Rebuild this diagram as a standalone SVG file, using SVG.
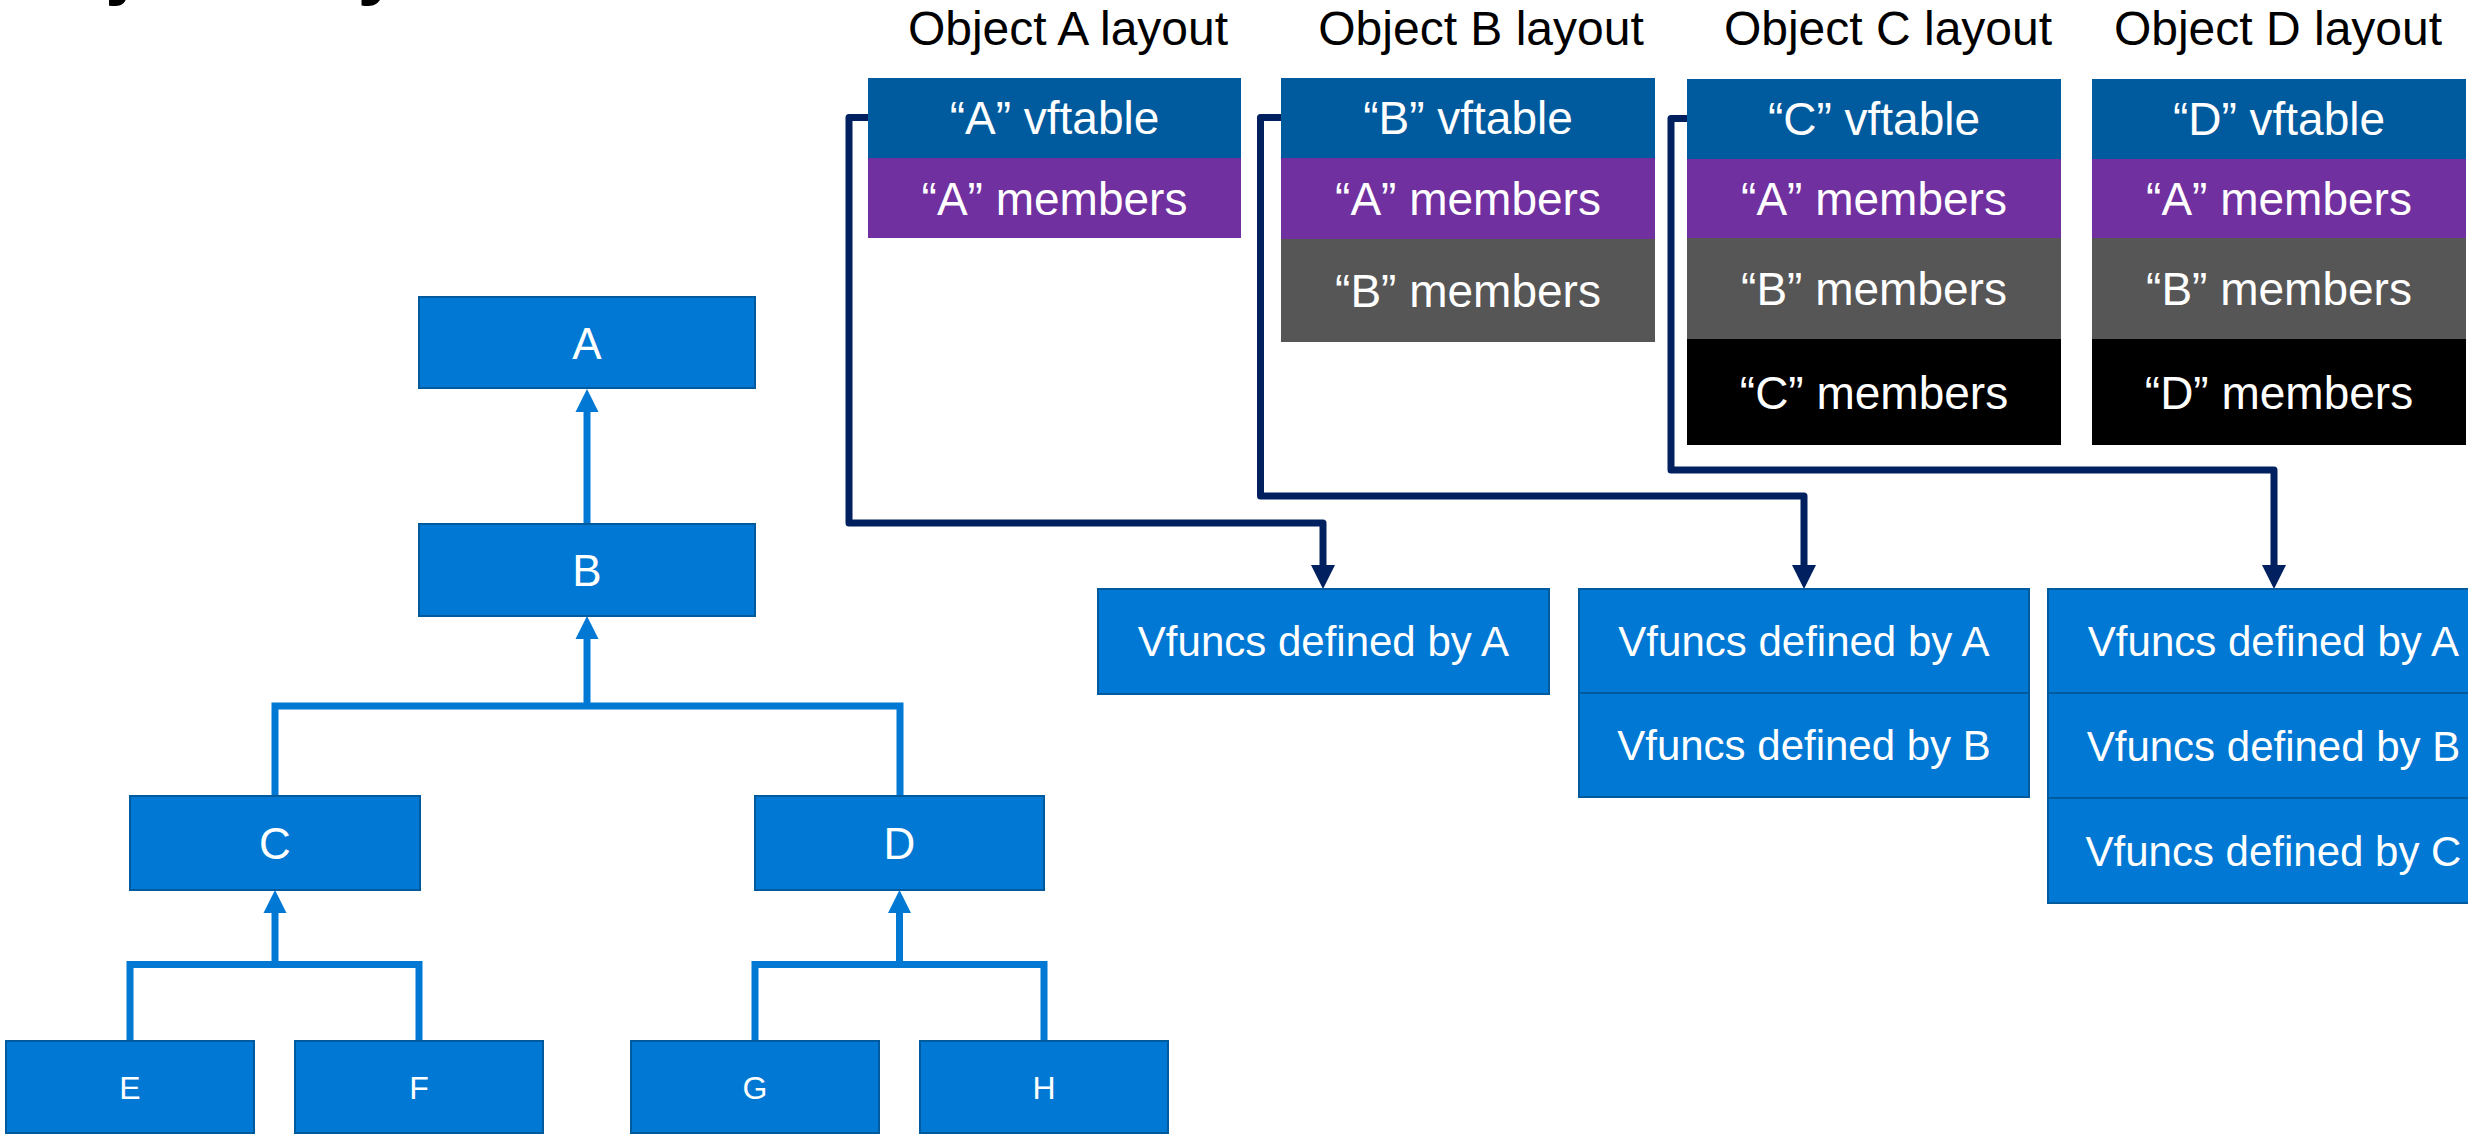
<svg xmlns="http://www.w3.org/2000/svg" width="2468" height="1139" viewBox="0 0 2468 1139">
<style>
text{font-family:"Liberation Sans",Arial,sans-serif;fill:#fff;text-anchor:middle}
.title{fill:#000;font-size:48px}
.main{fill:#000;font-size:78px;font-weight:bold;text-anchor:start}
.cls{fill:#0078D4;stroke:#005A9E;stroke-width:2}
.t44{font-size:44px}
.t32{font-size:32px}
.lay{font-size:46px}
.vf{font-size:42px}
.vt{fill:#005A9E}
.am{fill:#7030A0}
.bm{fill:#565656}
.cm{fill:#000}
.inh{fill:none;stroke:#0078D4;stroke-width:7}
.ptr{fill:none;stroke:#002060;stroke-width:7;stroke-linejoin:round}
</style>
<defs>
<marker id="ab" markerUnits="userSpaceOnUse" markerWidth="24" markerHeight="24" viewBox="0 -12 24 24" refX="0" refY="0" orient="auto"><path d="M0,-11.5 L23,0 L0,11.5 Z" fill="#0078D4"/></marker>
<marker id="an" markerUnits="userSpaceOnUse" markerWidth="24" markerHeight="24" viewBox="0 -12 24 24" refX="0" refY="0" orient="auto"><path d="M0,-12 L24,0 L0,12 Z" fill="#002060"/></marker>
</defs>
<rect width="2468" height="1139" fill="#fff"/>
<text class="main" x="2" y="-10">Object Layout</text>

<g id="connectors">
<path class="inh" d="M587 524 V412" marker-end="url(#ab)"/>
<path class="inh" d="M275 796 V706 H900 V796"/>
<path class="inh" d="M587 706 V639" marker-end="url(#ab)"/>
<path class="inh" d="M130 1041 V964.5 H419 V1041"/>
<path class="inh" d="M275 964.5 V913" marker-end="url(#ab)"/>
<path class="inh" d="M755 1041 V964.5 H1044 V1041"/>
<path class="inh" d="M899.5 964.5 V913" marker-end="url(#ab)"/>
<path class="ptr" d="M868 117.5 H849 V523 H1323 V565" marker-end="url(#an)"/>
<path class="ptr" d="M1281 117.5 H1260.5 V496 H1804 V565" marker-end="url(#an)"/>
<path class="ptr" d="M1687 118.5 H1671 V470 H2274 V565" marker-end="url(#an)"/>
</g>

<g id="class-A"><rect class="cls" x="419" y="297" width="336" height="91"/><text class="t44" x="587" y="359">A</text></g>
<g id="class-B"><rect class="cls" x="419" y="524" width="336" height="92"/><text class="t44" x="587" y="586">B</text></g>
<g id="class-C"><rect class="cls" x="130" y="796" width="290" height="94"/><text class="t44" x="275" y="859">C</text></g>
<g id="class-D"><rect class="cls" x="755" y="796" width="289" height="94"/><text class="t44" x="899.5" y="859">D</text></g>
<g id="class-E"><rect class="cls" x="6" y="1041" width="248" height="92"/><text class="t32" x="130" y="1099">E</text></g>
<g id="class-F"><rect class="cls" x="295" y="1041" width="248" height="92"/><text class="t32" x="419" y="1099">F</text></g>
<g id="class-G"><rect class="cls" x="631" y="1041" width="248" height="92"/><text class="t32" x="755" y="1099">G</text></g>
<g id="class-H"><rect class="cls" x="920" y="1041" width="248" height="92"/><text class="t32" x="1044" y="1099">H</text></g>

<g id="layout-A">
<text class="title" x="1068" y="45">Object A layout</text>
<rect class="vt" x="868" y="78" width="373" height="80"/><text class="lay" x="1054.5" y="134">“A” vftable</text>
<rect class="am" x="868" y="158" width="373" height="80"/><text class="lay" x="1054.5" y="215">“A” members</text>
</g>
<g id="layout-B">
<text class="title" x="1481" y="45">Object B layout</text>
<rect class="vt" x="1281" y="78" width="374" height="80"/><text class="lay" x="1468" y="134">“B” vftable</text>
<rect class="am" x="1281" y="158" width="374" height="81"/><text class="lay" x="1468" y="215">“A” members</text>
<rect class="bm" x="1281" y="239" width="374" height="103"/><text class="lay" x="1468" y="307">“B” members</text>
</g>
<g id="layout-C">
<text class="title" x="1888" y="45">Object C layout</text>
<rect class="vt" x="1687" y="79" width="374" height="80"/><text class="lay" x="1874" y="135">“C” vftable</text>
<rect class="am" x="1687" y="159" width="374" height="79"/><text class="lay" x="1874" y="215">“A” members</text>
<rect class="bm" x="1687" y="238" width="374" height="101"/><text class="lay" x="1874" y="305">“B” members</text>
<rect class="cm" x="1687" y="339" width="374" height="106"/><text class="lay" x="1874" y="409">“C” members</text>
</g>
<g id="layout-D">
<text class="title" x="2278" y="45">Object D layout</text>
<rect class="vt" x="2092" y="79" width="374" height="80"/><text class="lay" x="2279" y="135">“D” vftable</text>
<rect class="am" x="2092" y="159" width="374" height="79"/><text class="lay" x="2279" y="215">“A” members</text>
<rect class="bm" x="2092" y="238" width="374" height="101"/><text class="lay" x="2279" y="305">“B” members</text>
<rect class="cm" x="2092" y="339" width="374" height="106"/><text class="lay" x="2279" y="409">“D” members</text>
</g>

<g id="vtable-A">
<rect class="cls" x="1098" y="589" width="451" height="105"/><text class="vf" x="1323.5" y="656">Vfuncs defined by A</text>
</g>
<g id="vtable-B">
<rect class="cls" x="1579" y="589" width="450" height="104"/><text class="vf" x="1804" y="656">Vfuncs defined by A</text>
<rect class="cls" x="1579" y="693" width="450" height="104"/><text class="vf" x="1804" y="760">Vfuncs defined by B</text>
</g>
<g id="vtable-C">
<rect class="cls" x="2048" y="589" width="451" height="104"/><text class="vf" x="2273.5" y="656">Vfuncs defined by A</text>
<rect class="cls" x="2048" y="693" width="451" height="105"/><text class="vf" x="2273.5" y="761">Vfuncs defined by B</text>
<rect class="cls" x="2048" y="798" width="451" height="105"/><text class="vf" x="2273.5" y="866">Vfuncs defined by C</text>
</g>
</svg>
